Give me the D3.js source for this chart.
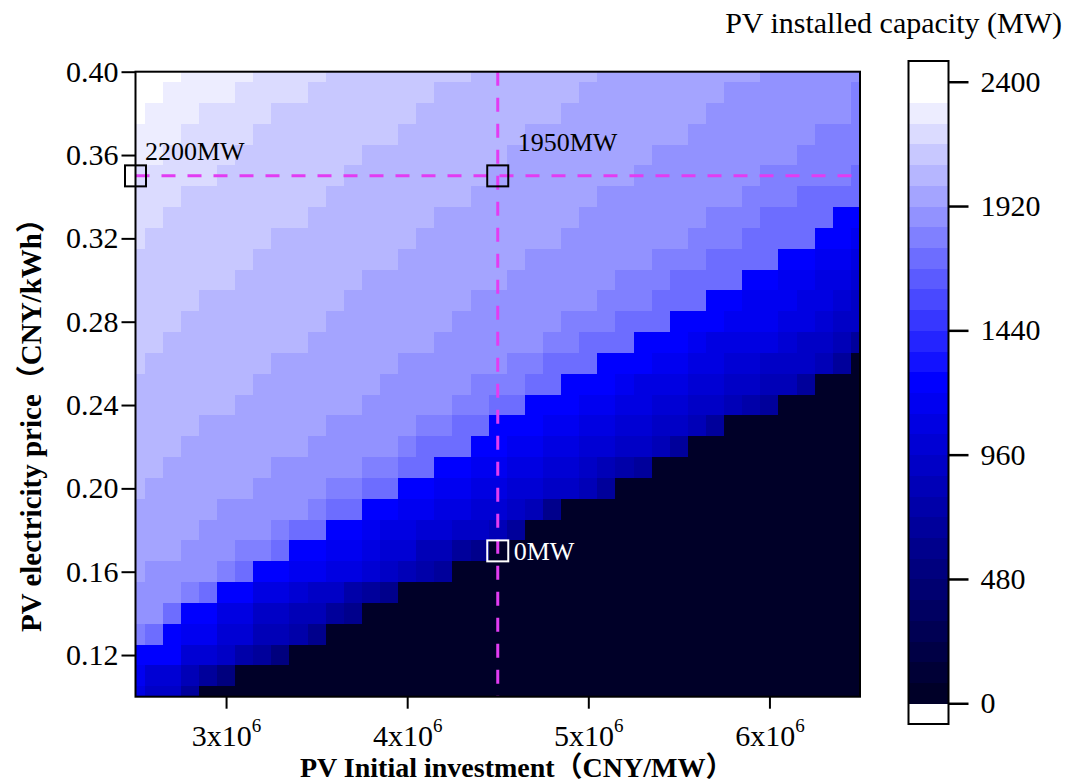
<!DOCTYPE html>
<html>
<head>
<meta charset="utf-8">
<script src="https://d3js.org/d3.v7.min.js"></script>
<style>
  body { margin: 0; background: #fff; }
  svg { display: block; font-family: "Liberation Serif", "Times New Roman", "Noto Sans CJK SC", serif; }
</style>
</head>
<body>
<script>
// scan grid: PV initial investment (CNY/MW) x PV electricity price (CNY/kWh)
var investment = [2.5e6, 2.6e6, 2.7e6, 2.8e6, 2.9e6, 3.0e6, 3.1e6, 3.2e6, 3.3e6, 3.4e6,
  3.5e6, 3.6e6, 3.7e6, 3.8e6, 3.9e6, 4.0e6, 4.1e6, 4.2e6, 4.3e6, 4.4e6,
  4.5e6, 4.6e6, 4.7e6, 4.8e6, 4.9e6, 5.0e6, 5.1e6, 5.2e6, 5.3e6, 5.4e6,
  5.5e6, 5.6e6, 5.7e6, 5.8e6, 5.9e6, 6.0e6, 6.1e6, 6.2e6, 6.3e6, 6.4e6, 6.5e6];
var price = [0.40, 0.39, 0.38, 0.37, 0.36, 0.35, 0.34, 0.33, 0.32, 0.31, 0.30,
  0.29, 0.28, 0.27, 0.26, 0.25, 0.24, 0.23, 0.22, 0.21, 0.20,
  0.19, 0.18, 0.17, 0.16, 0.15, 0.14, 0.13, 0.12, 0.11, 0.10];

// PV installed capacity (MW), one row per price (top row = 0.40), one column per investment
var capacity = [
  [2360,2360,2360,2280,2280,2280,2280,2200,2200,2200,2200,2120,2120,2120,2120,2120,2120,2120,2120,2040,2040,2040,2040,2040,2040,2040,1960,1960,1960,1960,1960,1960,1960,1960,1960,1880,1880,1880,1880,1880,1880],
  [2360,2360,2280,2280,2280,2280,2200,2200,2200,2200,2120,2120,2120,2120,2120,2120,2120,2040,2040,2040,2040,2040,2040,2040,2040,1960,1960,1960,1960,1960,1960,1960,1960,1880,1880,1880,1880,1880,1880,1880,1800],
  [2360,2280,2280,2280,2200,2200,2200,2200,2120,2120,2120,2120,2120,2120,2120,2120,2040,2040,2040,2040,2040,2040,2040,2040,1960,1960,1960,1960,1960,1960,1960,1960,1880,1880,1880,1880,1880,1880,1880,1880,1800],
  [2280,2280,2280,2200,2200,2200,2200,2120,2120,2120,2120,2120,2120,2120,2120,2040,2040,2040,2040,2040,2040,2040,1960,1960,1960,1960,1960,1960,1960,1960,1960,1880,1880,1880,1880,1880,1880,1880,1800,1800,1800],
  [2280,2280,2200,2200,2200,2200,2120,2120,2120,2120,2120,2120,2120,2040,2040,2040,2040,2040,2040,2040,2040,1960,1960,1960,1960,1960,1960,1960,1960,1880,1880,1880,1880,1880,1880,1880,1880,1800,1800,1800,1800],
  [2200,2200,2200,2200,2200,2120,2120,2120,2120,2120,2120,2120,2040,2040,2040,2040,2040,2040,2040,2040,1960,1960,1960,1960,1960,1960,1960,1960,1880,1880,1880,1880,1880,1880,1880,1800,1800,1800,1800,1800,1720],
  [2200,2200,2200,2120,2120,2120,2120,2120,2120,2120,2120,2040,2040,2040,2040,2040,2040,2040,2040,1960,1960,1960,1960,1960,1960,1960,1880,1880,1880,1880,1880,1880,1880,1880,1800,1800,1800,1720,1720,1720,1720],
  [2200,2200,2120,2120,2120,2120,2120,2120,2120,2120,2040,2040,2040,2040,2040,2040,2040,1960,1960,1960,1960,1960,1960,1960,1960,1880,1880,1880,1880,1880,1880,1880,1800,1800,1800,1720,1720,1720,1720,1240,1240],
  [2200,2120,2120,2120,2120,2120,2120,2120,2040,2040,2040,2040,2040,2040,2040,2040,1960,1960,1960,1960,1960,1960,1960,1960,1880,1880,1880,1880,1880,1880,1880,1800,1800,1800,1720,1720,1720,1720,1240,1240,1160],
  [2120,2120,2120,2120,2120,2120,2120,2040,2040,2040,2040,2040,2040,2040,2040,1960,1960,1960,1960,1960,1960,1960,1880,1880,1880,1880,1880,1880,1880,1800,1800,1800,1720,1720,1720,1720,1240,1240,1160,1160,1080],
  [2120,2120,2120,2120,2120,2120,2040,2040,2040,2040,2040,2040,2040,1960,1960,1960,1960,1960,1960,1960,1960,1880,1880,1880,1880,1880,1880,1800,1800,1800,1720,1720,1720,1720,1240,1240,1160,1160,1080,1080,1000],
  [2120,2120,2120,2120,2040,2040,2040,2040,2040,2040,2040,2040,1960,1960,1960,1960,1960,1960,1960,1880,1880,1880,1880,1880,1880,1880,1800,1800,1800,1720,1720,1720,1240,1240,1160,1160,1160,1080,1080,1000,920],
  [2120,2120,2120,2040,2040,2040,2040,2040,2040,2040,2040,1960,1960,1960,1960,1960,1960,1960,1880,1880,1880,1880,1880,1880,1800,1800,1800,1720,1720,1720,1240,1240,1240,1160,1160,1160,1080,1080,1000,920,920],
  [2120,2120,2040,2040,2040,2040,2040,2040,2040,2040,1960,1960,1960,1960,1960,1960,1960,1880,1880,1880,1880,1880,1880,1800,1800,1720,1720,1720,1240,1240,1240,1160,1080,1080,1080,1080,1000,920,920,840,680],
  [2120,2040,2040,2040,2040,2040,2040,2040,1960,1960,1960,1960,1960,1960,1960,1880,1880,1880,1880,1880,1880,1800,1800,1720,1720,1720,1240,1240,1240,1160,1160,1080,1080,1000,1000,920,920,920,840,680,0],
  [2040,2040,2040,2040,2040,2040,2040,1960,1960,1960,1960,1960,1960,1960,1880,1880,1880,1880,1880,1800,1800,1800,1720,1720,1240,1240,1240,1160,1080,1080,1080,1000,1000,920,920,840,840,680,0,0,0],
  [2040,2040,2040,2040,2040,2040,1960,1960,1960,1960,1960,1960,1960,1880,1880,1880,1880,1880,1800,1800,1720,1720,1240,1240,1240,1160,1160,1080,1080,1000,1000,920,920,840,760,680,0,0,0,0,0],
  [2040,2040,2040,2040,1960,1960,1960,1960,1960,1960,1960,1880,1880,1880,1880,1880,1800,1800,1720,1720,1240,1240,1240,1160,1160,1080,1080,1000,1000,920,920,840,680,0,0,0,0,0,0,0,0],
  [2040,2040,2040,1960,1960,1960,1960,1960,1960,1960,1880,1880,1880,1880,1880,1800,1720,1720,1720,1240,1240,1160,1160,1080,1080,1000,1000,920,920,840,680,0,0,0,0,0,0,0,0,0,0],
  [2040,2040,1960,1960,1960,1960,1960,1960,1880,1880,1880,1880,1880,1800,1800,1720,1720,1240,1240,1160,1160,1080,1080,1000,1000,920,840,760,680,0,0,0,0,0,0,0,0,0,0,0,0],
  [2040,1960,1960,1960,1960,1960,1960,1880,1880,1880,1880,1800,1800,1720,1720,1240,1240,1160,1160,1080,1080,1000,1000,920,920,840,680,0,0,0,0,0,0,0,0,0,0,0,0,0,0],
  [1960,1960,1960,1960,1960,1880,1880,1880,1880,1880,1800,1720,1720,1240,1240,1160,1160,1080,1080,1000,1000,920,840,600,0,0,0,0,0,0,0,0,0,0,0,0,0,0,0,0,0],
  [1960,1960,1960,1960,1880,1880,1880,1880,1800,1720,1720,1240,1240,1160,1080,1080,1000,1000,920,920,840,680,0,0,0,0,0,0,0,0,0,0,0,0,0,0,0,0,0,0,0],
  [1960,1960,1960,1880,1880,1880,1800,1800,1720,1240,1240,1160,1160,1080,1000,1000,840,840,680,600,0,0,0,0,0,0,0,0,0,0,0,0,0,0,0,0,0,0,0,0,0],
  [1960,1880,1880,1880,1880,1800,1720,1240,1240,1160,1160,1080,1080,1000,920,840,760,680,0,0,0,0,0,0,0,0,0,0,0,0,0,0,0,0,0,0,0,0,0,0,0],
  [1880,1880,1880,1800,1720,1240,1240,1080,1080,1000,920,920,760,680,600,0,0,0,0,0,0,0,0,0,0,0,0,0,0,0,0,0,0,0,0,0,0,0,0,0,0],
  [1880,1880,1720,1240,1240,1080,1080,920,920,840,840,680,600,0,0,0,0,0,0,0,0,0,0,0,0,0,0,0,0,0,0,0,0,0,0,0,0,0,0,0,0],
  [1800,1720,1240,1160,1160,1000,1000,840,840,760,600,0,0,0,0,0,0,0,0,0,0,0,0,0,0,0,0,0,0,0,0,0,0,0,0,0,0,0,0,0,0],
  [1240,1240,1240,1000,1000,920,760,680,520,0,0,0,0,0,0,0,0,0,0,0,0,0,0,0,0,0,0,0,0,0,0,0,0,0,0,0,0,0,0,0,0],
  [1160,1000,1000,840,680,520,0,0,0,0,0,0,0,0,0,0,0,0,0,0,0,0,0,0,0,0,0,0,0,0,0,0,0,0,0,0,0,0,0,0,0],
  [1080,920,920,680,0,0,0,0,0,0,0,0,0,0,0,0,0,0,0,0,0,0,0,0,0,0,0,0,0,0,0,0,0,0,0,0,0,0,0,0,0]
];

var xTicks = [3e6, 4e6, 5e6, 6e6];
var yTicks = [0.12, 0.16, 0.20, 0.24, 0.28, 0.32, 0.36, 0.40];
var barTicks = [0, 480, 960, 1440, 1920, 2400];

// marked points on the dashed guide lines
var markInvest = [2.5e6, 4.5e6, 4.5e6];
var markPrice = [0.35, 0.35, 0.17];
var markLabel = ["2200MW", "1950MW", "0MW"];

capacity.forEach(function (row, i) {
  if (row.length !== investment.length) throw new Error("row " + i + " has " + row.length);
});

var width = 1066, height = 784;
var svg = d3.select("body").append("svg")
  .attr("width", width)
  .attr("height", height);

var x = d3.scaleLinear().domain([2.5e6, 6.5e6]).range([135.5, 860]);
var y = d3.scaleLinear().domain([0.10, 0.40]).range([696.7, 71.7]);

// stepped colormap, 80 MW per band: navy -> blue -> white
var steps = d3.range(0, 2401, 80);
var palette = ["#ffffff"];
for (var k = 0; k < 30; k++) {
  if (k <= 15) palette.push(d3.rgb(0, 0, Math.round(40 + 215 * k / 15)).formatHex());
  else {
    var v = Math.round(255 * (k - 15) / 14);
    palette.push(d3.rgb(v, v, 255).formatHex());
  }
}
palette.push("#ffffff");
var color = d3.scaleThreshold().domain(steps).range(palette);

// heatmap cells, centred on the grid points and clipped to the frame
svg.append("clipPath").attr("id", "plotclip")
  .append("rect")
  .attr("x", x(2.5e6)).attr("y", y(0.40))
  .attr("width", x(6.5e6) - x(2.5e6)).attr("height", y(0.10) - y(0.40));

var halfX = (investment[1] - investment[0]) / 2;
var halfY = (price[0] - price[1]) / 2;
var cells = [];
capacity.forEach(function (row, i) {
  row.forEach(function (val, j) {
    cells.push({ inv: investment[j], p: price[i], v: val });
  });
});

svg.append("g")
  .attr("clip-path", "url(#plotclip)")
  .attr("shape-rendering", "crispEdges")
  .selectAll("rect")
  .data(cells)
  .enter().append("rect")
  .attr("x", function (d) { return x(d.inv - halfX); })
  .attr("y", function (d) { return y(d.p + halfY); })
  .attr("width", function (d) { return x(d.inv + halfX) - x(d.inv - halfX) + 0.5; })
  .attr("height", function (d) { return y(d.p - halfY) - y(d.p + halfY) + 0.5; })
  .attr("fill", function (d) { return color(d.v); });

// dashed guide lines through the marked points
var guide = "#e23cf2";
svg.append("line")
  .attr("x1", x(2.5e6)).attr("x2", x(6.5e6))
  .attr("y1", y(markPrice[0])).attr("y2", y(markPrice[0]))
  .attr("stroke", guide).attr("stroke-width", 3).attr("stroke-dasharray", "14,12");
svg.append("line")
  .attr("x1", x(markInvest[1])).attr("x2", x(markInvest[1]))
  .attr("y1", y(0.40)).attr("y2", y(0.10))
  .attr("stroke", guide).attr("stroke-width", 3).attr("stroke-dasharray", "14,12");

// frame
svg.append("rect")
  .attr("x", x(2.5e6)).attr("y", y(0.40))
  .attr("width", x(6.5e6) - x(2.5e6)).attr("height", y(0.10) - y(0.40))
  .attr("fill", "none").attr("stroke", "#000").attr("stroke-width", 2);

// markers and their labels
var labelDx = [9.5, 20, 16], labelDy = [-15.5, -24.5, 9];
var ink = ["#000", "#000", "#fff"];
markLabel.forEach(function (lab, i) {
  var cx = x(markInvest[i]), cy = y(markPrice[i]);
  svg.append("rect")
    .attr("x", cx - 10.5).attr("y", cy - 10.5)
    .attr("width", 21).attr("height", 21)
    .attr("fill", "none").attr("stroke", ink[i]).attr("stroke-width", 2);
  svg.append("text")
    .attr("x", cx + labelDx[i]).attr("y", cy + labelDy[i])
    .attr("font-size", 26).attr("fill", ink[i])
    .text(lab);
});

// axes
var serif = "Liberation Serif, Times New Roman, serif";
var gy = svg.append("g")
  .attr("transform", "translate(" + x(2.5e6) + ",0)")
  .call(d3.axisLeft(y).tickValues(yTicks).tickSize(14).tickPadding(3).tickFormat(d3.format(".2f")));
gy.attr("font-family", serif).attr("font-size", 30);
gy.select(".domain").remove();
gy.selectAll(".tick line").attr("stroke", "#000").attr("stroke-width", 2);
gy.selectAll(".tick text").attr("fill", "#000");

var gx = svg.append("g")
  .attr("transform", "translate(0," + y(0.10) + ")")
  .call(d3.axisBottom(x).tickValues(xTicks).tickSize(12).tickPadding(16).tickFormat(""));
gx.attr("font-family", serif).attr("font-size", 30);
gx.select(".domain").remove();
gx.selectAll(".tick line").attr("stroke", "#000").attr("stroke-width", 2);
gx.selectAll(".tick text").attr("fill", "#000").each(function (d) {
  var t = d3.select(this);
  t.append("tspan").text(Math.round(d / 1e6) + "x10");
  t.append("tspan").attr("dy", -14).attr("font-size", 19).text("6");
});

// axis titles
svg.append("text")
  .attr("x", 300).attr("y", 777)
  .attr("font-size", 28).attr("font-weight", "bold")
  .text("PV Initial investment（CNY/MW）");
svg.append("text")
  .attr("transform", "translate(41,632) rotate(-90)")
  .attr("font-size", 29).attr("font-weight", "bold")
  .text("PV electricity price（CNY/kWh）");

// colour bar
var cbY = d3.scaleLinear().domain([-80, 2480]).range([724, 61]);
var cbX = 908.5, cbW = 40;
var bands = d3.range(-80, 2480, 80);
svg.append("g").attr("shape-rendering", "crispEdges").selectAll("rect")
  .data(bands)
  .enter().append("rect")
  .attr("x", cbX)
  .attr("y", function (d) { return cbY(d + 80); })
  .attr("width", cbW)
  .attr("height", function (d) { return cbY(d) - cbY(d + 80) + 0.5; })
  .attr("fill", function (d) { return color(d); });
svg.append("rect")
  .attr("x", cbX).attr("y", cbY(2480))
  .attr("width", cbW).attr("height", cbY(-80) - cbY(2480))
  .attr("fill", "none").attr("stroke", "#000").attr("stroke-width", 2);

var gc = svg.append("g")
  .attr("transform", "translate(" + (cbX + cbW) + ",0)")
  .call(d3.axisRight(cbY).tickValues(barTicks).tickSize(20).tickPadding(12).tickFormat(d3.format("d")));
gc.attr("font-family", serif).attr("font-size", 30);
gc.select(".domain").remove();
gc.selectAll(".tick line").attr("stroke", "#000").attr("stroke-width", 2.5);
gc.selectAll(".tick text").attr("fill", "#000");

svg.append("text")
  .attr("x", 1062).attr("y", 33)
  .attr("text-anchor", "end")
  .attr("font-size", 30)
  .text("PV installed capacity (MW)");
</script>
</body>
</html>
